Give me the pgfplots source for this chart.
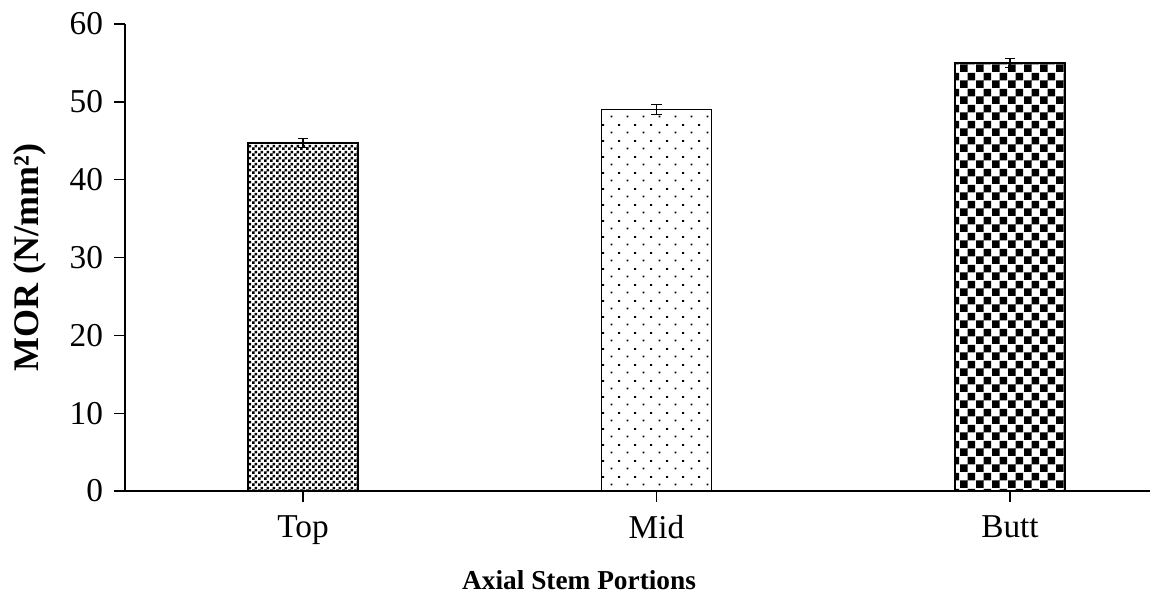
\documentclass[border=0pt]{standalone}
\usepackage{fontspec}
\setmainfont{Liberation Serif}
\usepackage{pgfplots}
\pgfplotsset{compat=1.18}
\usetikzlibrary{patterns}

% fine checkerboard
\pgfdeclarepatternformonly{smallchecker}{\pgfpointorigin}{\pgfpoint{4.5pt}{4.5pt}}{\pgfpoint{4.5pt}{4.5pt}}{%
  \pgfpathrectangle{\pgfpointorigin}{\pgfpoint{2.25pt}{2.25pt}}%
  \pgfpathrectangle{\pgfpoint{2.25pt}{2.25pt}}{\pgfpoint{2.25pt}{2.25pt}}%
  \pgfusepath{fill}}
% staggered dots
\pgfdeclarepatternformonly{sparsedots}{\pgfpointorigin}{\pgfpoint{12pt}{12pt}}{\pgfpoint{12pt}{12pt}}{%
  \pgfpathrectangle{\pgfpoint{2pt}{2pt}}{\pgfpoint{1.5pt}{1.5pt}}%
  \pgfpathrectangle{\pgfpoint{8pt}{8pt}}{\pgfpoint{1.5pt}{1.5pt}}%
  \pgfusepath{fill}}
% large checkerboard
\pgfdeclarepatternformonly{bigchecker}{\pgfpointorigin}{\pgfpoint{12pt}{12pt}}{\pgfpoint{12pt}{12pt}}{%
  \pgfpathrectangle{\pgfpointorigin}{\pgfpoint{6pt}{6pt}}%
  \pgfpathrectangle{\pgfpoint{6pt}{6pt}}{\pgfpoint{6pt}{6pt}}%
  \pgfusepath{fill}}

\begin{document}
\begin{tikzpicture}
\useasboundingbox (0,0) rectangle (868.5pt,450pt);
\begin{axis}[
  at={(93.75pt,81.75pt)}, anchor=south west,
  scale only axis,
  width=768.75pt, height=350.25pt,
  axis lines*=left,
  axis line style={line width=1pt},
  xmin=-0.5035, xmax=2.396,
  ymin=0, ymax=60,
  ytick={0,10,...,60},
  xtick={0,1,2},
  xticklabels={Top,Mid,Butt},
  tick align=outside,
  major tick length=8pt,
  tick style={line width=1pt, black},
  /pgf/number format/assume math mode=true,
  ticklabel style={font=\fontsize{25}{30}\selectfont},
  xticklabel style={yshift=-7pt},
  yticklabel style={xshift=-5pt},
  ylabel={\textbf{MOR (N/mm²)}},
  xlabel={\textbf{Axial Stem Portions}},
  ylabel style={font=\fontsize{27}{32}\selectfont, at={(axis description cs:-0.0927,0.5)}, anchor=center},
  xlabel style={font=\fontsize{20.5}{24}\selectfont, at={(axis description cs:0.443,-0.19)}, anchor=center},
  ybar, bar width=82.5pt, bar shift=0pt,
  every axis plot/.append style={draw=black, line width=1.2pt},
]
\addplot[pattern=smallchecker, pattern color=black,
  error bars/.cd, y dir=both, y explicit,
  error bar style={line width=0.8pt, black},
  error mark options={rotate=90, mark size=4pt, line width=0.8pt, black}]
  coordinates {(0,44.7) +- (0,0.6)};
\addplot[pattern=sparsedots, pattern color=black,
  error bars/.cd, y dir=both, y explicit,
  error bar style={line width=0.8pt, black},
  error mark options={rotate=90, mark size=4pt, line width=0.8pt, black}]
  coordinates {(1,49.0) +- (0,0.6)};
\addplot[pattern=bigchecker, pattern color=black,
  error bars/.cd, y dir=both, y explicit,
  error bar style={line width=0.8pt, black},
  error mark options={rotate=90, mark size=4pt, line width=0.8pt, black}]
  coordinates {(2,55.0) +- (0,0.6)};
\end{axis}
\end{tikzpicture}
\end{document}
